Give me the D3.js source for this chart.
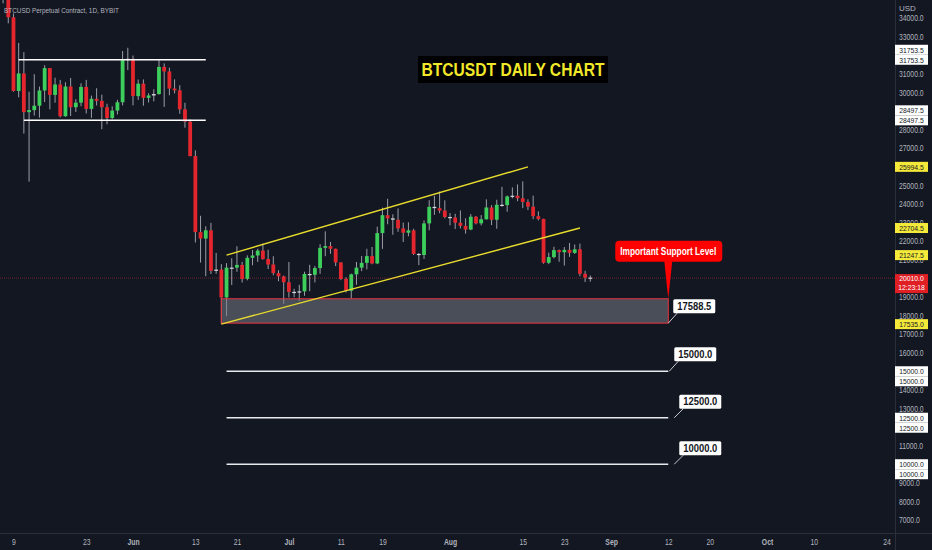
<!DOCTYPE html>
<html>
<head>
<meta charset="utf-8">
<script src="https://cdn.jsdelivr.net/npm/d3@7"></script>
<style>
  html, body { margin: 0; padding: 0; background: #131722; overflow: hidden; }
  svg { display: block; font-family: "Liberation Sans", Arial, sans-serif; }
</style>
</head>
<body>
<script>
// daily candles, BYBIT BTCUSD, 7 May 2022 -> 28 Aug 2022
const firstDay = '2022-05-07';
const openPrices = [
  35998, 35468, 34038, 30074, 31018, 28936, 29047, 29283, 30102, 31305, 29863, 30425, 28716, 30315, 29201, 29446, 30294, 29110, 29655, 29543, 29202, 28622, 29020, 29468, 31734,
  31802, 29799, 30468, 29704, 29833, 29907, 31370, 31125, 30205, 30110, 29091, 28424, 26574, 22485, 22136, 22583, 20401, 20468, 18970, 20574, 20573, 20720, 19965, 21100, 21227, 21491, 21038, 20742, 20281, 20105,
  19785, 19270, 19242, 19298, 20232, 20190, 20548, 21637, 21731, 21587, 20853, 19963, 19328, 20212, 20572, 20830, 21195, 20798, 22432, 23396, 23223, 23152, 22684, 22451, 22579, 21310, 21254, 22952, 23843, 23774, 23643,
  23296, 23269, 22987, 22818, 22622, 23312, 22955, 23175, 23810, 23149, 23954, 23935, 24403, 24441, 24306, 24102, 23854, 23342, 23191, 20834, 21140, 21516, 21400, 21529, 21368, 21560, 20241, 20037
];
const highPrices = [
  36132, 35510, 34243, 32659, 32163, 30033, 30977, 30314, 31460, 31305, 30788, 30672, 30545, 30777, 29634, 30487, 30672, 29827, 30223, 29875, 29388, 29250, 29600, 32222, 32399,
  31983, 30690, 30695, 29955, 30168, 31765, 31557, 31327, 30700, 30383, 29440, 28544, 26883, 23362, 22800, 22980, 21365, 20761, 20815, 21078, 21723, 20889, 21233, 21520, 21592, 21868, 21540, 21185, 20432, 20143,
  20876, 19433, 19650, 20354, 20726, 20660, 21838, 22527, 21955, 21600, 20868, 20055, 20250, 20880, 21200, 21588, 21684, 22777, 23800, 24276, 23442, 23756, 22996, 23014, 22666, 21360, 23112, 24200, 24442, 24668, 24194,
  23509, 23470, 23647, 23225, 23450, 23354, 23400, 24245, 23933, 24226, 24918, 24456, 24888, 25047, 25212, 24247, 24446, 23600, 23208, 21382, 21700, 21548, 21680, 21900, 21819, 21867, 20402, 20150
];
const lowPrices = [
  34785, 33713, 30033, 29730, 27785, 25200, 28751, 28643, 29480, 29087, 29444, 28654, 28690, 28730, 28947, 29255, 28866, 28633, 29297, 28019, 28282, 28559, 28810, 29300, 31200,
  29301, 29594, 29283, 29454, 29516, 29880, 29219, 29843, 29944, 28850, 28100, 26560, 21925, 20846, 20111, 20232, 20246, 17535, 17960, 19637, 20348, 19770, 19890, 20700, 20880, 21000, 20497, 20163, 19846, 18626,
  18966, 18978, 18782, 19057, 19305, 19776, 20238, 21189, 21320, 20655, 19900, 19240, 18910, 19650, 20383, 20478, 20755, 20763, 21582, 22906, 22341, 22500, 21950, 22258, 21250, 20706, 21043, 22582, 23414, 23500, 23227,
  22850, 22652, 22681, 22400, 22586, 22900, 22843, 23154, 22860, 22664, 23852, 23580, 24296, 24145, 23773, 23671, 23180, 23111, 20783, 20761, 21069, 20890, 20685, 21150, 21310, 20110, 19800, 19820
];
const closePrices = [
  35468, 34038, 30076, 31018, 28936, 29047, 29283, 30102, 31305, 29863, 30425, 28716, 30315, 29201, 29446, 30294, 29110, 29655, 29543, 29202, 28622, 29020, 29468, 31734, 31802,
  29799, 30468, 29704, 29833, 29907, 31370, 31125, 30205, 30110, 29091, 28424, 26574, 22487, 22136, 22583, 20401, 20468, 18970, 20574, 20573, 20720, 19965, 21100, 21227, 21491, 21038, 20742, 20281, 20105, 19785,
  19270, 19242, 19298, 20232, 20190, 20548, 21637, 21731, 21587, 20853, 19963, 19328, 20212, 20572, 20830, 21195, 20798, 22432, 23396, 23223, 23152, 22684, 22451, 22579, 21310, 21254, 22952, 23843, 23774, 23643, 23293,
  23269, 22987, 22818, 22622, 23312, 22955, 23175, 23810, 23149, 23954, 23935, 24403, 24441, 24306, 24102, 23854, 23342, 23191, 20834, 21140, 21516, 21400, 21529, 21368, 21560, 20241, 20037, 20010
];

const priceTicks = [7000, 8000, 9000, 10000, 11000, 12000, 13000, 14000, 15000, 16000, 17000, 18000, 19000, 20000,
  21000, 22000, 23000, 24000, 25000, 26000, 27000, 28000, 29000, 30000, 31000, 32000, 33000, 34000];
const dateTicks = ['2022-05-09', '2022-05-23', '2022-06-01', '2022-06-13', '2022-06-21', '2022-07-01', '2022-07-11',
  '2022-07-19', '2022-08-01', '2022-08-15', '2022-08-23', '2022-09-01', '2022-09-12', '2022-09-20', '2022-10-01',
  '2022-10-10', '2022-10-24'];

// drawings on the chart
const rangeTop = [['2022-05-10', 31753.5], ['2022-06-15', 31753.5]];
const rangeBottom = [['2022-05-11', 28497.5], ['2022-06-15', 28497.5]];
const channelUpper = [['2022-06-19', 21247.5], ['2022-08-16', 25994.5]];
const channelLower = [['2022-06-18', 17535], ['2022-08-26', 22704.5]];
const supportZone = { from: '2022-06-18', to: '2022-09-12', top: 18900, bottom: 17588.5 };
const targetLevels = [15000, 12500, 10000];
const targetStart = '2022-06-19';
const whiteLevels = [31753.5, 28497.5, 15000, 12500, 10000];
const yellowLevels = [25994.5, 22704.5, 21247.5, 17535];
const lastPrice = 20010;
const countdown = '12:23:18';

const W = 932, H = 550;
const axisX = 895, axisY = 533;
const bg = '#131722';
const upColor = '#3ccf5b', downColor = '#e3262d', wickColor = '#9b9ea7';
const textColor = '#b2b5be';

const parse = d3.utcParse('%Y-%m-%d');
const days = d3.utcDay.range(parse(firstDay), d3.utcDay.offset(parse(firstDay), openPrices.length));
const candles = days.map((d, i) => ({
  date: d, o: openPrices[i], h: highPrices[i], l: lowPrices[i], c: closePrices[i]
}));

const x = d3.scaleUtc()
  .domain([parse('2022-06-01'), parse('2022-10-01')])
  .range([133, 767]);
const y = d3.scaleLinear()
  .domain([7000, 34000])
  .range([520, 18]);

const svg = d3.select('body').append('svg')
  .attr('width', W)
  .attr('height', H);

svg.append('rect').attr('width', W).attr('height', H).attr('fill', bg);

svg.append('defs').append('clipPath').attr('id', 'plot')
  .append('rect').attr('width', axisX).attr('height', axisY);

// squeeze text horizontally, the screenshot fonts are narrow
function squeeze(sel, k) {
  sel.each(function () {
    const w = this.getComputedTextLength();
    d3.select(this).attr('textLength', w * k).attr('lengthAdjust', 'spacingAndGlyphs');
  });
}

const plot = svg.append('g').attr('clip-path', 'url(#plot)');

// candles
const bodyW = 3.8;
const candle = plot.selectAll('.candle')
  .data(candles)
  .enter()
  .append('g')
  .classed('candle', true);

candle.append('line')
  .attr('x1', d => x(d.date)).attr('x2', d => x(d.date))
  .attr('y1', d => y(d.h)).attr('y2', d => y(d.l))
  .attr('stroke', wickColor)
  .attr('stroke-width', 1);

candle.append('rect')
  .attr('x', d => x(d.date) - bodyW / 2)
  .attr('width', bodyW)
  .attr('y', d => Math.min(y(d.o), y(d.c)))
  .attr('height', d => Math.max(1.2, Math.abs(y(d.o) - y(d.c))))
  .attr('fill', d => {
    if (Math.abs(y(d.o) - y(d.c)) < 1.5) return '#d6d8de';
    return d.c >= d.o ? upColor : downColor;
  });

// support zone
plot.append('rect')
  .attr('x', x(parse(supportZone.from)))
  .attr('width', x(parse(supportZone.to)) - x(parse(supportZone.from)))
  .attr('y', y(supportZone.top))
  .attr('height', y(supportZone.bottom) - y(supportZone.top))
  .attr('fill', 'rgba(120,123,134,0.55)')
  .attr('stroke', '#e8323c')
  .attr('stroke-width', 1);

// lines
const line = d3.line().x(d => x(parse(d[0]))).y(d => y(d[1]));
[rangeTop, rangeBottom].forEach(pts => {
  plot.append('path').attr('d', line(pts)).attr('stroke', '#ffffff').attr('stroke-width', 1.6).attr('fill', 'none');
});
[channelUpper, channelLower].forEach(pts => {
  plot.append('path').attr('d', line(pts)).attr('stroke', '#e9dc2c').attr('stroke-width', 1.4).attr('fill', 'none');
});
targetLevels.forEach(v => {
  plot.append('line')
    .attr('x1', x(parse(targetStart))).attr('x2', x(parse(supportZone.to)))
    .attr('y1', y(v)).attr('y2', y(v))
    .attr('stroke', '#e8e9ed').attr('stroke-width', 1.6);
});

// current price line
plot.append('line')
  .attr('x1', 0).attr('x2', axisX)
  .attr('y1', y(lastPrice)).attr('y2', y(lastPrice))
  .attr('stroke', '#f23645').attr('stroke-opacity', 0.4)
  .attr('stroke-dasharray', '1,1');

// callouts with a pointer
const callouts = [supportZone.bottom].concat(targetLevels);
const calloutDx = [5, 6, 11, 11];
const calloutDy = [-24, -24, -23, -23];
callouts.forEach((v, i) => {
  const ax = x(parse(supportZone.to)), ay = y(v);
  const bx = ax + calloutDx[i], by = ay + calloutDy[i];
  plot.append('line')
    .attr('x1', ax + calloutDx[i] - 5).attr('y1', ay)
    .attr('x2', bx + 4).attr('y2', by + 14)
    .attr('stroke', '#c9cbd1').attr('stroke-width', 1);
  plot.append('rect')
    .attr('x', bx).attr('y', by).attr('width', 42).attr('height', 14)
    .attr('rx', 1.5).attr('fill', '#ffffff');
  plot.append('text')
    .attr('x', bx + 21).attr('y', by + 10.5)
    .attr('text-anchor', 'middle')
    .attr('font-weight', 'bold').attr('font-size', 10)
    .attr('fill', '#131722')
    .attr('textLength', 34).attr('lengthAdjust', 'spacingAndGlyphs')
    .text(d3.format('.1f')(v));
});

// "Important Support Level" bubble
const tipX = x(parse(supportZone.to)), tipY = y(supportZone.top);
const bubble = plot.append('g');
bubble.append('path')
  .attr('d', `M${tipX - 4},${tipY - 38} L${tipX},${tipY} L${tipX + 4},${tipY - 38} Z`)
  .attr('fill', '#ff0000');
bubble.append('rect')
  .attr('x', tipX - 53).attr('y', tipY - 58).attr('width', 107).attr('height', 21)
  .attr('rx', 4).attr('fill', '#ff0000');
bubble.append('text')
  .attr('x', tipX).attr('y', tipY - 44)
  .attr('text-anchor', 'middle')
  .attr('font-weight', 'bold').attr('font-size', 10)
  .attr('fill', '#ffffff')
  .attr('textLength', 96).attr('lengthAdjust', 'spacingAndGlyphs')
  .text('Important Support Level');

// title
svg.append('rect').attr('x', 418).attr('y', 56).attr('width', 190).attr('height', 27).attr('fill', '#000000');
svg.append('text')
  .attr('x', 513).attr('y', 76)
  .attr('text-anchor', 'middle')
  .attr('font-weight', 'bold').attr('font-size', 17.5)
  .attr('fill', '#f2e829')
  .attr('textLength', 183).attr('lengthAdjust', 'spacingAndGlyphs')
  .text('BTCUSDT DAILY CHART');

svg.append('text')
  .attr('x', 4).attr('y', 13)
  .attr('font-size', 8).attr('fill', textColor)
  .attr('textLength', 115).attr('lengthAdjust', 'spacingAndGlyphs')
  .text('BTCUSD Perpetual Contract, 1D, BYBIT');

// axis separators
svg.append('line').attr('x1', axisX + 0.5).attr('x2', axisX + 0.5).attr('y1', 0).attr('y2', H)
  .attr('stroke', '#2a2e39');
svg.append('line').attr('x1', 0).attr('x2', W).attr('y1', axisY + 0.5).attr('y2', axisY + 0.5)
  .attr('stroke', '#2a2e39');

// price axis labels boxes (y centres), white ones stack one row away
const boxRows = [];
whiteLevels.forEach(v => {
  boxRows.push({ cy: y(v) + (v > lastPrice ? -10 : 10), fill: '#ffffff', v });
  boxRows.push({ cy: y(v), fill: '#ffffff', v });
});
yellowLevels.forEach(v => boxRows.push({ cy: y(v), fill: '#f5e93a', v }));
const lastBox = { top: y(lastPrice) - 4, bottom: y(lastPrice) + 15 };

// price axis; labels entirely hidden behind a box are not drawn
const hidden = t => boxRows.some(b => Math.abs(b.cy - y(t)) <= 3) ||
  (y(t) > lastBox.top + 2 && y(t) < lastBox.bottom - 2);
const yAxis = svg.append('g')
  .attr('transform', `translate(${axisX},0)`)
  .call(d3.axisRight(y).tickValues(priceTicks.filter(t => !hidden(t)))
    .tickFormat(d3.format('.1f')).tickSize(0).tickPadding(4));
yAxis.select('.domain').remove();
yAxis.attr('font-family', null).attr('font-size', 8.5).attr('color', textColor);
squeeze(yAxis.selectAll('text'), 0.8);

svg.append('text')
  .attr('x', 899).attr('y', 11)
  .attr('font-size', 8).attr('fill', textColor)
  .text('USD');

// time axis
const tickFmt = d => d.getUTCDate() === 1 ? d3.utcFormat('%b')(d) : d3.utcFormat('%-d')(d);
const xAxis = svg.append('g')
  .attr('transform', `translate(0,${axisY})`)
  .call(d3.axisBottom(x).tickValues(dateTicks.map(parse)).tickFormat(tickFmt).tickSize(0).tickPadding(6));
xAxis.select('.domain').remove();
xAxis.attr('font-family', null).attr('font-size', 8.5).attr('color', textColor);
xAxis.selectAll('text').attr('font-weight', d => d.getUTCDate() === 1 ? 'bold' : null);
squeeze(xAxis.selectAll('text'), 0.8);

// price labels on the axis
function axisLabel(cy, fill, color, txt) {
  svg.append('rect')
    .attr('x', axisX).attr('y', cy - 5).attr('width', 33).attr('height', 10)
    .attr('fill', fill);
  const t = svg.append('text')
    .attr('x', axisX + 16.5).attr('y', cy + 2.8)
    .attr('text-anchor', 'middle')
    .attr('font-size', 8).attr('fill', color)
    .text(txt);
  squeeze(t, 0.85);
}
boxRows.forEach(b => axisLabel(b.cy, b.fill, '#131722', d3.format('.1f')(b.v)));

svg.append('rect')
  .attr('x', axisX).attr('y', lastBox.top).attr('width', 33).attr('height', lastBox.bottom - lastBox.top)
  .attr('fill', '#e01f25');
squeeze(svg.append('text')
  .attr('x', axisX + 16.5).attr('y', y(lastPrice) + 3)
  .attr('text-anchor', 'middle').attr('font-size', 8).attr('fill', '#ffffff')
  .text(d3.format('.1f')(lastPrice)), 0.85);
squeeze(svg.append('text')
  .attr('x', axisX + 16.5).attr('y', y(lastPrice) + 12)
  .attr('text-anchor', 'middle').attr('font-size', 8).attr('fill', '#ffffff')
  .text(countdown), 0.85);
</script>
</body>
</html>
